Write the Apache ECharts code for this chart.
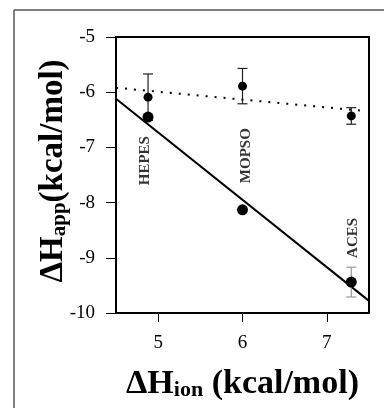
<!DOCTYPE html>
<html><head><meta charset="utf-8">
<script src="https://cdn.jsdelivr.net/npm/echarts@6/dist/echarts.min.js"></script>
<style>html,body{margin:0;padding:0;background:#fff}#c{width:384px;height:408px}</style>
</head><body><div id="c"></div>
<script>
var buffers = ['HEPES', 'MOPSO', 'ACES'];
var dHion = [4.88, 6.0, 7.29];
var upperY = [-6.09, -5.89, -6.43];
var upperErr = [0.42, 0.32, 0.15];
var lowerY = [-6.45, -8.13, -9.44];
var lowerErr = [0, 0, 0.27];
var solidFit = [[4.5, -6.12], [7.5, -9.78]];
var dottedFit = [[4.5, -5.92], [7.45, -6.34]];
var labelPos = [[4.845, -7.24], [6.04, -7.15], [7.31, -8.64]];
var xTicks = [5, 6, 7];
var yMin = -10, yMax = -5;

var serif = 'Liberation Serif';
var chart = echarts.init(document.getElementById('c'), null, {renderer: 'canvas'});

function errData(ys, errs) {
  var out = [];
  for (var i = 0; i < ys.length; i++) {
    if (errs[i] > 0) out.push([dHion[i], ys[i], ys[i] - errs[i], ys[i] + errs[i]]);
  }
  return out;
}
function errRender(color) {
  return function (params, api) {
    var x = api.value(0);
    var lo = api.coord([x, api.value(2)]);
    var hi = api.coord([x, api.value(3)]);
    var hw = 5;
    var st = {stroke: color, lineWidth: 1.2};
    return {type: 'group', children: [
      {type: 'line', shape: {x1: lo[0], y1: lo[1], x2: hi[0], y2: hi[1]}, style: st},
      {type: 'line', shape: {x1: lo[0] - hw, y1: lo[1], x2: lo[0] + hw, y2: lo[1]}, style: st},
      {type: 'line', shape: {x1: hi[0] - hw, y1: hi[1], x2: hi[0] + hw, y2: hi[1]}, style: st}
    ]};
  };
}

var titleRich = {
  m: {fontFamily: serif, fontWeight: 'bold', fontSize: 34, color: '#000', lineHeight: 40, verticalAlign: 'bottom'},
  s: {fontFamily: serif, fontWeight: 'bold', fontSize: 22, color: '#000', lineHeight: 20, verticalAlign: 'bottom'}
};
var yTitleRich = {
  m: {fontFamily: serif, fontWeight: 'bold', fontSize: 33, color: '#000', lineHeight: 40, verticalAlign: 'bottom'},
  s: {fontFamily: serif, fontWeight: 'bold', fontSize: 21, color: '#000', lineHeight: 20, verticalAlign: 'bottom'}
};

chart.setOption({
  animation: false,
  backgroundColor: '#fff',
  grid: {left: 116, right: 15, top: 37, bottom: 95, show: true, borderColor: '#000', borderWidth: 2, backgroundColor: 'transparent'},
  xAxis: {
    type: 'value', min: 4.5, max: 7.5,
    axisLine: {lineStyle: {color: '#000', width: 2}},
    axisTick: {show: true, length: 9, customValues: xTicks, lineStyle: {color: '#000', width: 1}},
    axisLabel: {customValues: xTicks, margin: 21, fontFamily: serif, fontSize: 19, color: '#000'},
    splitLine: {show: false},
    name: '{m|ΔH}{s|ion}{m| (kcal/mol)}',
    nameLocation: 'middle', nameGap: 48, nameMoveOverlap: false,
    nameTextStyle: {rich: titleRich}
  },
  yAxis: {
    type: 'value', min: yMin, max: yMax, interval: 1,
    axisLine: {show: true, lineStyle: {color: '#000', width: 2}},
    axisTick: {show: true, length: 10, lineStyle: {color: '#000', width: 1}},
    axisLabel: {margin: 21, fontFamily: serif, fontSize: 19, color: '#000'},
    splitLine: {show: false},
    name: '{m|ΔH}{s|app}{m|(kcal/mol)}',
    nameLocation: 'middle', nameGap: 46, nameRotate: 90, nameMoveOverlap: false,
    nameTextStyle: {rich: yTitleRich, padding: [0, 0, 0, 8]}
  },
  graphic: [
    {type: 'line', shape: {x1: 14, y1: 10, x2: 14, y2: 408}, style: {stroke: '#555', lineWidth: 1.5}, z: 100},
    {type: 'line', shape: {x1: 14, y1: 10, x2: 384, y2: 10}, style: {stroke: '#555', lineWidth: 1.5}, z: 100}
  ],
  series: [
    {type: 'line', data: solidFit, symbol: 'none', lineStyle: {color: '#000', width: 2}, z: 2},
    {type: 'line', data: dottedFit, symbol: 'none', lineStyle: {color: '#000', width: 2, type: [2, 7]}, z: 2},
    {type: 'custom', data: errData(upperY, upperErr), renderItem: errRender('#222'), z: 3},
    {type: 'custom', data: errData(lowerY, lowerErr), renderItem: errRender('#999'), z: 3},
    {type: 'scatter', data: dHion.map(function (x, i) { return [x, upperY[i]]; }), symbolSize: 9, itemStyle: {color: '#000', opacity: 1}, z: 4},
    {type: 'scatter', data: dHion.map(function (x, i) { return [x, lowerY[i]]; }), symbolSize: 11, itemStyle: {color: '#000', opacity: 1}, z: 4},
    {type: 'scatter', data: labelPos.map(function (p, i) { return {value: p, name: buffers[i]}; }), symbolSize: 0, silent: true, z: 5,
      label: {show: true, position: 'inside', rotate: 90, formatter: '{b}', fontFamily: serif, fontWeight: 'bold', fontSize: 15, color: '#000'}}
  ]
});
</script></body></html>
